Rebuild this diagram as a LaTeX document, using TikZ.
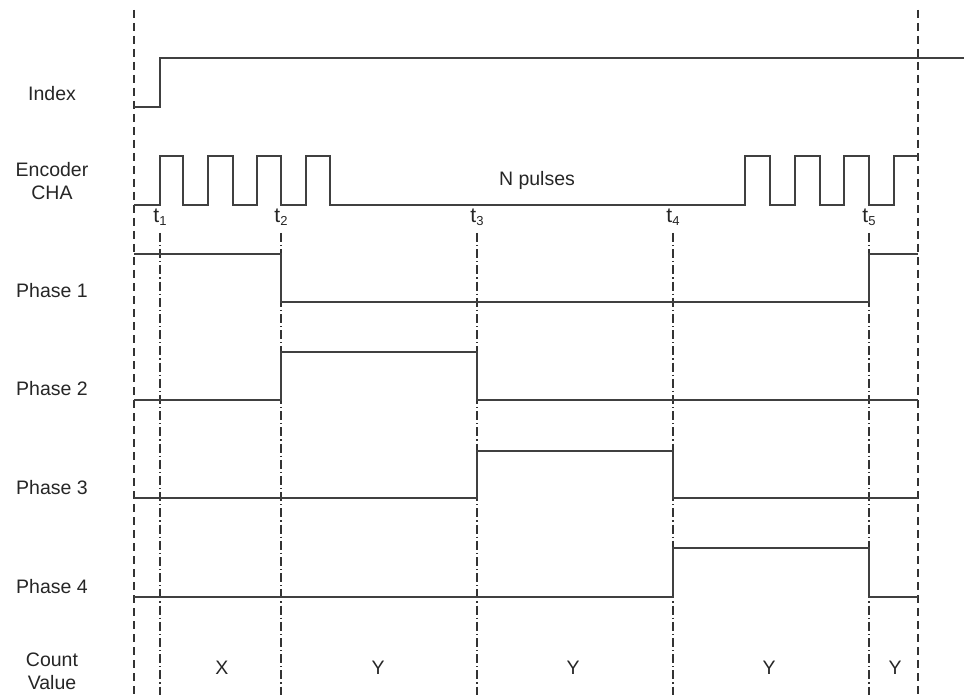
\documentclass[tikz,border=0pt]{standalone}
\usepackage{fontspec}
\setmainfont{Liberation Sans}
\begin{document}
\begin{tikzpicture}[x=1pt,y=-1pt,
  sig/.style={draw=black!75, line width=1.4pt, line join=miter},
  bound/.style={draw=black!80, line width=1.2pt, dash pattern=on 8pt off 5pt},
  tline/.style={draw=black!80, line width=1.1pt, dash pattern=on 9pt off 3pt on 1.2pt off 3pt},
  lbl/.style={font=\fontsize{19.5}{23}\selectfont, text=black!85, align=center, inner sep=0pt},
  tlbl/.style={font=\fontsize{21}{22}\selectfont, text=black!85, inner sep=0pt}]
\useasboundingbox (0,0) rectangle (964,695);
\fill[white] (0,0) rectangle (964,695);
% boundaries
\draw[bound] (134,10) -- (134,695);
\draw[bound] (918,10) -- (918,695);
% time lines
\foreach \x in {160,281,477,673,869} \draw[tline] (\x,233) -- (\x,695);
% labels
\node[lbl] (lIndex) at (52,94) {Index};
\node[lbl] (lEnc) at (52,181) {Encoder\\[0pt]CHA};
\node[lbl] (lP1) at (52,291) {Phase 1};
\node[lbl] (lP2) at (52,389) {Phase 2};
\node[lbl] (lP3) at (52,488) {Phase 3};
\node[lbl] (lP4) at (52,587) {Phase 4};
\node[lbl] (lCV) at (52,671) {Count\\[0pt]Value};
% t labels
\node[tlbl] (t1) at (160,217) {t\raisebox{-0.3ex}{\fontsize{13}{13}\selectfont 1}};
\node[tlbl] (t2) at (281,217) {t\raisebox{-0.3ex}{\fontsize{13}{13}\selectfont 2}};
\node[tlbl] (t3) at (477,217) {t\raisebox{-0.3ex}{\fontsize{13}{13}\selectfont 3}};
\node[tlbl] (t4) at (673,217) {t\raisebox{-0.3ex}{\fontsize{13}{13}\selectfont 4}};
\node[tlbl] (t5) at (869,217) {t\raisebox{-0.3ex}{\fontsize{13}{13}\selectfont 5}};
\node[lbl] (np) at (537,180) {N pulses};
% count values
\node[lbl] (cX) at (222,668) {X};
\node[lbl] (cY1) at (378,668) {Y};
\node[lbl] (cY2) at (573,668) {Y};
\node[lbl] (cY3) at (769,668) {Y};
\node[lbl] (cY4) at (895,668) {Y};
% Index
\draw[sig] (134,107) -- (160,107) -- (160,58) -- (964,58);
% Encoder CHA
\draw[sig] (134,205) -- (160,205) -- (160,156) -- (183,156) -- (183,205) -- (208,205) -- (208,156) -- (233,156) -- (233,205) -- (257,205) -- (257,156) -- (281,156) -- (281,205) -- (306,205) -- (306,156) -- (330,156) -- (330,205) -- (745,205) -- (745,156) -- (770,156) -- (770,205) -- (795,205) -- (795,156) -- (820,156) -- (820,205) -- (844,205) -- (844,156) -- (869,156) -- (869,205) -- (894,205) -- (894,156) -- (918,156);
% Phase 1
\draw[sig] (134,254) -- (281,254) -- (281,302) -- (869,302) -- (869,254) -- (918,254);
% Phase 2
\draw[sig] (134,400) -- (281,400) -- (281,352) -- (477,352) -- (477,400) -- (918,400);
% Phase 3
\draw[sig] (134,498) -- (477,498) -- (477,451) -- (673,451) -- (673,498) -- (918,498);
% Phase 4
\draw[sig] (134,597) -- (673,597) -- (673,548) -- (869,548) -- (869,597) -- (918,597);
\end{tikzpicture}
\end{document}
